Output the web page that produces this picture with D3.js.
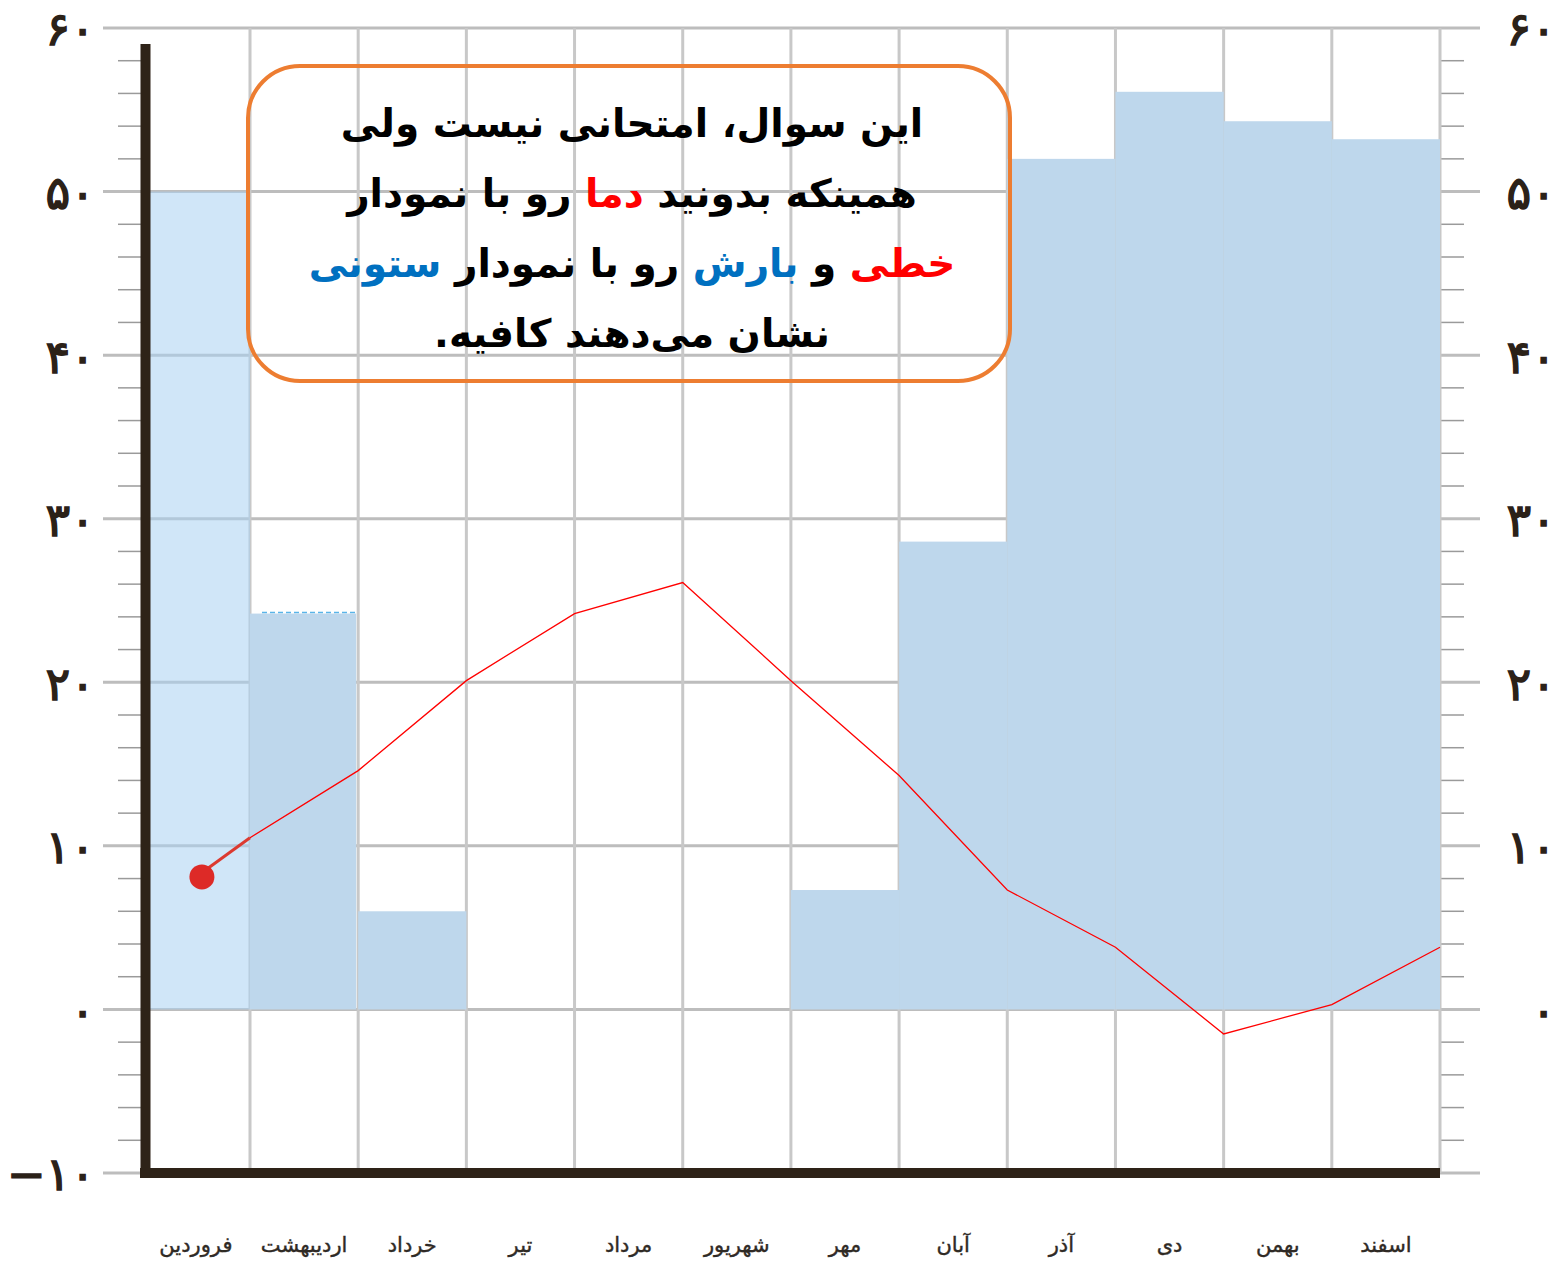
<!DOCTYPE html>
<html>
<head>
<meta charset="utf-8">
<script src="https://cdn.jsdelivr.net/npm/d3@7"></script>
<style>
  body { margin: 0; background: #fff; }
</style>
</head>
<body>
<div id="chart"></div>
<script>
const months = ["فروردین", "اردیبهشت", "خرداد", "تیر", "مرداد", "شهریور", "مهر", "آبان", "آذر", "دی", "بهمن", "اسفند"];
// بارش (ستونی)
const barash = [50, 24.2, 6, 0, 0, 0, 7.3, 28.6, 52.0, 56.1, 54.3, 53.2];
// دما (خطی) - محل نقطه‌ها روی مرز ماه‌ها
const damaPos = [0.5, 1, 2, 3, 4, 5, 6, 7, 8, 9, 10, 11, 12];
const dama = [8.1, 10.5, 14.6, 20.1, 24.2, 26.1, 20.1, 14.3, 7.3, 3.8, -1.5, 0.3, 3.8];
const yMajor = [-10, 0, 10, 20, 30, 40, 50, 60];
const yMinor = d3.range(-10, 61, 2).filter(v => v % 10 !== 0);

const noteLines = [
  [["این سوال، امتحانی نیست ولی", "#000"]],
  [["همینکه بدونید ", "#000"], ["دما", "#ff0000"], [" رو با نمودار", "#000"]],
  [["خطی", "#ff0000"], [" و ", "#000"], ["بارش", "#0070c0"], [" رو با نمودار ", "#000"], ["ستونی", "#0070c0"]],
  [["نشان می‌دهند کافیه.", "#000"]]
];

const WIDTH = 1562, HEIGHT = 1265;
const SVG = d3.select("#chart").append("svg")
  .attr("width", WIDTH).attr("height", HEIGHT);

const x = d3.scaleLinear().domain([1, 12]).range([250, 1440]);
const y = d3.scaleLinear().domain([-10, 60]).range([1173, 28]);

const fa = v => String(v).replace(/-/g, "\u2212").replace(/\d/g, d => "۰۱۲۳۴۵۶۷۸۹"[d]);

// خطوط اصلی افقی
SVG.append("g").selectAll("line")
  .data(yMajor)
  .join("line")
  .attr("x1", 103).attr("x2", 1480)
  .attr("y1", d => y(d)).attr("y2", d => y(d))
  .attr("stroke", "#bdbdbd").attr("stroke-width", 3);

// تیک‌های فرعی
const minor = SVG.append("g");
minor.selectAll(".l").data(yMinor).join("line")
  .attr("x1", 118).attr("x2", 142)
  .attr("y1", d => y(d)).attr("y2", d => y(d))
  .attr("stroke", "#9a9a9a").attr("stroke-width", 1.5);
minor.selectAll(".r").data(yMinor).join("line")
  .attr("x1", 1440).attr("x2", 1464)
  .attr("y1", d => y(d)).attr("y2", d => y(d))
  .attr("stroke", "#9a9a9a").attr("stroke-width", 1.5);

// خطوط عمودی
SVG.append("g").selectAll("line")
  .data(d3.range(1, 13))
  .join("line")
  .attr("x1", d => x(d)).attr("x2", d => x(d))
  .attr("y1", y(60)).attr("y2", y(-10))
  .attr("stroke", "#c8c8c8").attr("stroke-width", 3);

// ستون‌ها
SVG.append("g").selectAll("rect")
  .data(barash)
  .join("rect")
  .attr("x", (d, i) => x(i))
  .attr("y", d => y(d))
  .attr("width", (d, i) => x(i + 1) - x(i) - (i === 1 ? 2 : 0))
  .attr("height", d => y(0) - y(d))
  .attr("fill", (d, i) => i === 0 ? "#a9d1f2" : "#bed7ec")
  .attr("fill-opacity", (d, i) => i === 0 ? 0.55 : 1);

// خط‌چین بالای ستون دوم
SVG.append("line")
  .attr("x1", x(1) + 12).attr("x2", x(2) - 2)
  .attr("y1", y(barash[1]) - 1).attr("y2", y(barash[1]) - 1)
  .attr("stroke", "#5ab4e8").attr("stroke-width", 1.5)
  .attr("stroke-dasharray", "5,3");

// محورها
SVG.append("line")
  .attr("x1", 145.5).attr("x2", 145.5)
  .attr("y1", 44).attr("y2", y(-10) + 5)
  .attr("stroke", "#2e2318").attr("stroke-width", 10);
SVG.append("line")
  .attr("x1", 140).attr("x2", x(12))
  .attr("y1", y(-10)).attr("y2", y(-10))
  .attr("stroke", "#2e2318").attr("stroke-width", 10);

// خط دما
const pts = damaPos.map((p, i) => [x(p), y(dama[i])]);
SVG.append("path")
  .attr("d", d3.line()(pts.slice(1)))
  .attr("fill", "none")
  .attr("stroke", "#ff0000").attr("stroke-width", 1.3);
SVG.append("path")
  .attr("d", d3.line()(pts.slice(0, 2)))
  .attr("stroke", "#dc3a30").attr("stroke-width", 3);
SVG.append("circle")
  .attr("cx", pts[0][0] + 6).attr("cy", pts[0][1])
  .attr("r", 12.5)
  .attr("fill", "#dd2a27");

// برچسب‌های محور عمودی
function yLabels(data, xPos) {
  SVG.append("g").selectAll("text")
    .data(data)
    .join("text")
    .attr("x", xPos)
    .attr("y", d => y(d))
    .attr("dy", "0.38em")
    .attr("text-anchor", "end")
    .attr("direction", "ltr")
    .style("font-family", "DejaVu Sans, sans-serif")
    .style("font-size", "46px")
    .style("letter-spacing", "6px")
    .attr("fill", "#2b2118")
    .attr("stroke", "#2b2118")
    .attr("stroke-width", 1.5)
    .text(d => fa(d));
}
yLabels(yMajor, 95);
yLabels(yMajor.filter(d => d >= 0), 1556);

// نام ماه‌ها
SVG.append("g").selectAll("text")
  .data(months)
  .join("text")
  .attr("x", (d, i) => x(i + 0.5))
  .attr("y", 1252)
  .attr("text-anchor", "middle")
  .attr("direction", "rtl")
  .style("font-family", "DejaVu Sans, sans-serif")
  .style("font-size", "21px")
  .attr("fill", "#2f2a25")
  .attr("stroke", "#2f2a25")
  .attr("stroke-width", 0.4)
  .text(d => d);

// کادر توضیح
SVG.append("rect")
  .attr("x", 248).attr("y", 66)
  .attr("width", 762).attr("height", 315)
  .attr("rx", 52).attr("ry", 52)
  .attr("fill", "none")
  .attr("stroke", "#ed7d31").attr("stroke-width", 4);

const note = SVG.append("g");
noteLines.forEach((parts, i) => {
  const t = note.append("text")
    .attr("x", 632)
    .attr("y", 137 + i * 70)
    .attr("text-anchor", "middle")
    .attr("direction", "rtl")
    .style("font-family", "DejaVu Sans, sans-serif")
    .style("font-size", "39px")
    .style("font-weight", "bold");
  parts.forEach(p => {
    t.append("tspan").attr("fill", p[1]).text(p[0]);
  });
});
</script>
</body>
</html>
